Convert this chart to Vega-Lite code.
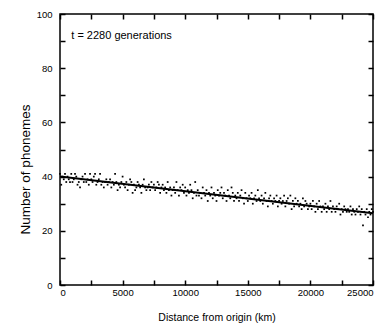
{
  "$schema": "https://vega.github.io/schema/vega-lite/v6.json",
  "width": 313,
  "height": 271,
  "autosize": {"type": "none"},
  "padding": {"left": 60, "top": 14, "right": 19, "bottom": 42},
  "background": "white",
  "config": {
    "view": {"stroke": "black", "strokeWidth": 1.5},
    "font": "Liberation Sans",
    "axis": {"domain": false, "grid": false, "zindex": 1, "ticks": true, "tickColor": "black", "tickWidth": 1.5, "tickOpacity": 1, "labelColor": "black", "titleColor": "black", "labelFont": "Liberation Sans", "titleFont": "Liberation Sans", "labelFontSize": 9.5, "titleFontSize": 10.5, "titleFontWeight": "normal"}
  },
  "datasets": {
    "pts": [
      {"x":0,"y":41},{"x":100,"y":37},{"x":200,"y":40},{"x":300,"y":39},{"x":400,"y":41},{"x":500,"y":38},{"x":600,"y":40},{"x":700,"y":39},{"x":800,"y":38},{"x":900,"y":41},
      {"x":1000,"y":38},{"x":1100,"y":39},{"x":1200,"y":41},{"x":1300,"y":40},{"x":1400,"y":37},{"x":1500,"y":38},{"x":1600,"y":36},{"x":1700,"y":39},{"x":1800,"y":40},{"x":1900,"y":38},
      {"x":2000,"y":41},{"x":2100,"y":38},{"x":2200,"y":39},{"x":2300,"y":37},{"x":2400,"y":41},{"x":2500,"y":39},{"x":2600,"y":38},{"x":2700,"y":40},{"x":2800,"y":41},{"x":2900,"y":37},
      {"x":3000,"y":38},{"x":3100,"y":39},{"x":3200,"y":41},{"x":3300,"y":37},{"x":3400,"y":38},{"x":3500,"y":36},{"x":3600,"y":38},{"x":3700,"y":39},{"x":3800,"y":37},{"x":3900,"y":38},
      {"x":4000,"y":39},{"x":4100,"y":36},{"x":4200,"y":38},{"x":4300,"y":37},{"x":4400,"y":41},{"x":4500,"y":38},{"x":4600,"y":35},{"x":4700,"y":37},{"x":4800,"y":36},{"x":4900,"y":38},
      {"x":5000,"y":40},{"x":5100,"y":37},{"x":5200,"y":36},{"x":5300,"y":38},{"x":5400,"y":35},{"x":5500,"y":37},{"x":5600,"y":39},{"x":5700,"y":38},{"x":5800,"y":34},{"x":5900,"y":37},
      {"x":6000,"y":35},{"x":6100,"y":36},{"x":6200,"y":38},{"x":6300,"y":37},{"x":6400,"y":36},{"x":6500,"y":34},{"x":6600,"y":37},{"x":6700,"y":39},{"x":6800,"y":36},{"x":6900,"y":35},
      {"x":7000,"y":36},{"x":7100,"y":37},{"x":7200,"y":35},{"x":7300,"y":38},{"x":7400,"y":36},{"x":7500,"y":37},{"x":7600,"y":35},{"x":7700,"y":36},{"x":7800,"y":38},{"x":7900,"y":37},
      {"x":8000,"y":34},{"x":8100,"y":36},{"x":8200,"y":37},{"x":8300,"y":35},{"x":8400,"y":36},{"x":8500,"y":34},{"x":8600,"y":38},{"x":8700,"y":35},{"x":8800,"y":36},{"x":8900,"y":33},
      {"x":9000,"y":35},{"x":9100,"y":36},{"x":9200,"y":34},{"x":9300,"y":38},{"x":9400,"y":35},{"x":9500,"y":33},{"x":9600,"y":36},{"x":9700,"y":35},{"x":9800,"y":37},{"x":9900,"y":34},
      {"x":10000,"y":36},{"x":10100,"y":33},{"x":10200,"y":35},{"x":10300,"y":34},{"x":10400,"y":37},{"x":10500,"y":35},{"x":10600,"y":32},{"x":10700,"y":34},{"x":10800,"y":38},{"x":10900,"y":33},
      {"x":11000,"y":35},{"x":11100,"y":33},{"x":11200,"y":34},{"x":11300,"y":32},{"x":11400,"y":36},{"x":11500,"y":34},{"x":11600,"y":33},{"x":11700,"y":35},{"x":11800,"y":31},{"x":11900,"y":34},
      {"x":12000,"y":33},{"x":12100,"y":36},{"x":12200,"y":32},{"x":12300,"y":34},{"x":12400,"y":33},{"x":12500,"y":31},{"x":12600,"y":35},{"x":12700,"y":33},{"x":12800,"y":34},{"x":12900,"y":36},
      {"x":13000,"y":32},{"x":13100,"y":34},{"x":13200,"y":33},{"x":13300,"y":31},{"x":13400,"y":35},{"x":13500,"y":33},{"x":13600,"y":32},{"x":13700,"y":36},{"x":13800,"y":34},{"x":13900,"y":31},
      {"x":14000,"y":33},{"x":14100,"y":32},{"x":14200,"y":34},{"x":14300,"y":31},{"x":14400,"y":33},{"x":14500,"y":35},{"x":14600,"y":32},{"x":14700,"y":30},{"x":14800,"y":34},{"x":14900,"y":32},
      {"x":15000,"y":31},{"x":15100,"y":33},{"x":15200,"y":32},{"x":15300,"y":34},{"x":15400,"y":30},{"x":15500,"y":32},{"x":15600,"y":33},{"x":15700,"y":31},{"x":15800,"y":35},{"x":15900,"y":32},
      {"x":16000,"y":31},{"x":16100,"y":33},{"x":16200,"y":30},{"x":16300,"y":32},{"x":16400,"y":34},{"x":16500,"y":31},{"x":16600,"y":29},{"x":16700,"y":32},{"x":16800,"y":33},{"x":16900,"y":31},
      {"x":17000,"y":30},{"x":17100,"y":32},{"x":17200,"y":31},{"x":17300,"y":33},{"x":17400,"y":29},{"x":17500,"y":31},{"x":17600,"y":32},{"x":17700,"y":30},{"x":17800,"y":31},{"x":17900,"y":33},
      {"x":18000,"y":29},{"x":18100,"y":31},{"x":18200,"y":32},{"x":18300,"y":30},{"x":18400,"y":33},{"x":18500,"y":28},{"x":18600,"y":31},{"x":18700,"y":29},{"x":18800,"y":32},{"x":18900,"y":30},
      {"x":19000,"y":31},{"x":19100,"y":29},{"x":19200,"y":30},{"x":19300,"y":28},{"x":19400,"y":32},{"x":19500,"y":29},{"x":19600,"y":31},{"x":19700,"y":30},{"x":19800,"y":28},{"x":19900,"y":29},
      {"x":20000,"y":30},{"x":20100,"y":28},{"x":20200,"y":31},{"x":20300,"y":29},{"x":20400,"y":27},{"x":20500,"y":30},{"x":20600,"y":28},{"x":20700,"y":31},{"x":20800,"y":29},{"x":20900,"y":27},
      {"x":21000,"y":29},{"x":21100,"y":28},{"x":21200,"y":30},{"x":21300,"y":27},{"x":21400,"y":29},{"x":21500,"y":28},{"x":21600,"y":31},{"x":21700,"y":27},{"x":21800,"y":29},{"x":21900,"y":28},
      {"x":22000,"y":27},{"x":22100,"y":29},{"x":22200,"y":28},{"x":22300,"y":30},{"x":22400,"y":26},{"x":22500,"y":28},{"x":22600,"y":27},{"x":22700,"y":29},{"x":22800,"y":28},{"x":22900,"y":27},
      {"x":23000,"y":28},{"x":23100,"y":27},{"x":23200,"y":29},{"x":23300,"y":26},{"x":23400,"y":28},{"x":23500,"y":27},{"x":23600,"y":26},{"x":23700,"y":28},{"x":23800,"y":27},{"x":23900,"y":29},
      {"x":24000,"y":26},{"x":24100,"y":28},{"x":24200,"y":22},{"x":24300,"y":27},{"x":24400,"y":26},{"x":24500,"y":28},{"x":24600,"y":25},{"x":24700,"y":27},{"x":24800,"y":26},{"x":24900,"y":28},
      {"x":25000,"y":27}
    ],
    "fit": [{"x": 0, "y": 40}, {"x": 25000, "y": 26.5}],
    "label": [{"x": 900, "y": 92, "text": "t = 2280 generations"}]
  },
  "layer": [
    {
      "data": {"name": "pts"},
      "mark": {"type": "point", "shape": "square", "size": 3, "filled": true, "color": "black", "opacity": 1},
      "encoding": {
        "x": {"field": "x", "type": "quantitative", "scale": {"domain": [0, 25000], "nice": false}, "title": "Distance from origin (km)",
          "axis": {"orient": "bottom", "offset": -5, "values": [0,2500,5000,7500,10000,12500,15000,17500,20000,22500,25000], "format": "d", "labelExpr": "datum.value % 5000 === 0 ? datum.label : ''", "tickSize": 5, "labelPadding": 2, "titlePadding": 16}},
        "y": {"field": "y", "type": "quantitative", "scale": {"domain": [0, 100], "nice": false}, "title": "Number of phonemes",
          "axis": {"orient": "left", "offset": -5, "values": [0,10,20,30,40,50,60,70,80,90,100], "labelExpr": "datum.value % 20 === 0 ? datum.label : ''", "tickSize": 5, "labelPadding": 8, "titlePadding": 4, "titleFontSize": 13.5, "titleY": 155}}
      }
    },
    {
      "data": {"name": "fit"},
      "mark": {"type": "line", "color": "black", "strokeWidth": 2},
      "encoding": {
        "x": {"field": "x", "type": "quantitative", "axis": {"orient": "top", "offset": -5, "values": [0,2500,5000,7500,10000,12500,15000,17500,20000,22500,25000], "labels": false, "title": null, "tickSize": 5}},
        "y": {"field": "y", "type": "quantitative", "axis": {"orient": "right", "offset": -5, "values": [0,10,20,30,40,50,60,70,80,90,100], "labels": false, "title": null, "tickSize": 5}}
      }
    },
    {
      "data": {"name": "label"},
      "mark": {"type": "text", "align": "left", "baseline": "middle", "fontSize": 11, "font": "Liberation Sans", "color": "black"},
      "encoding": {
        "x": {"field": "x", "type": "quantitative", "axis": null},
        "y": {"field": "y", "type": "quantitative", "axis": null},
        "text": {"field": "text"}
      }
    }
  ],
  "resolve": {"axis": {"x": "independent", "y": "independent"}}
}
